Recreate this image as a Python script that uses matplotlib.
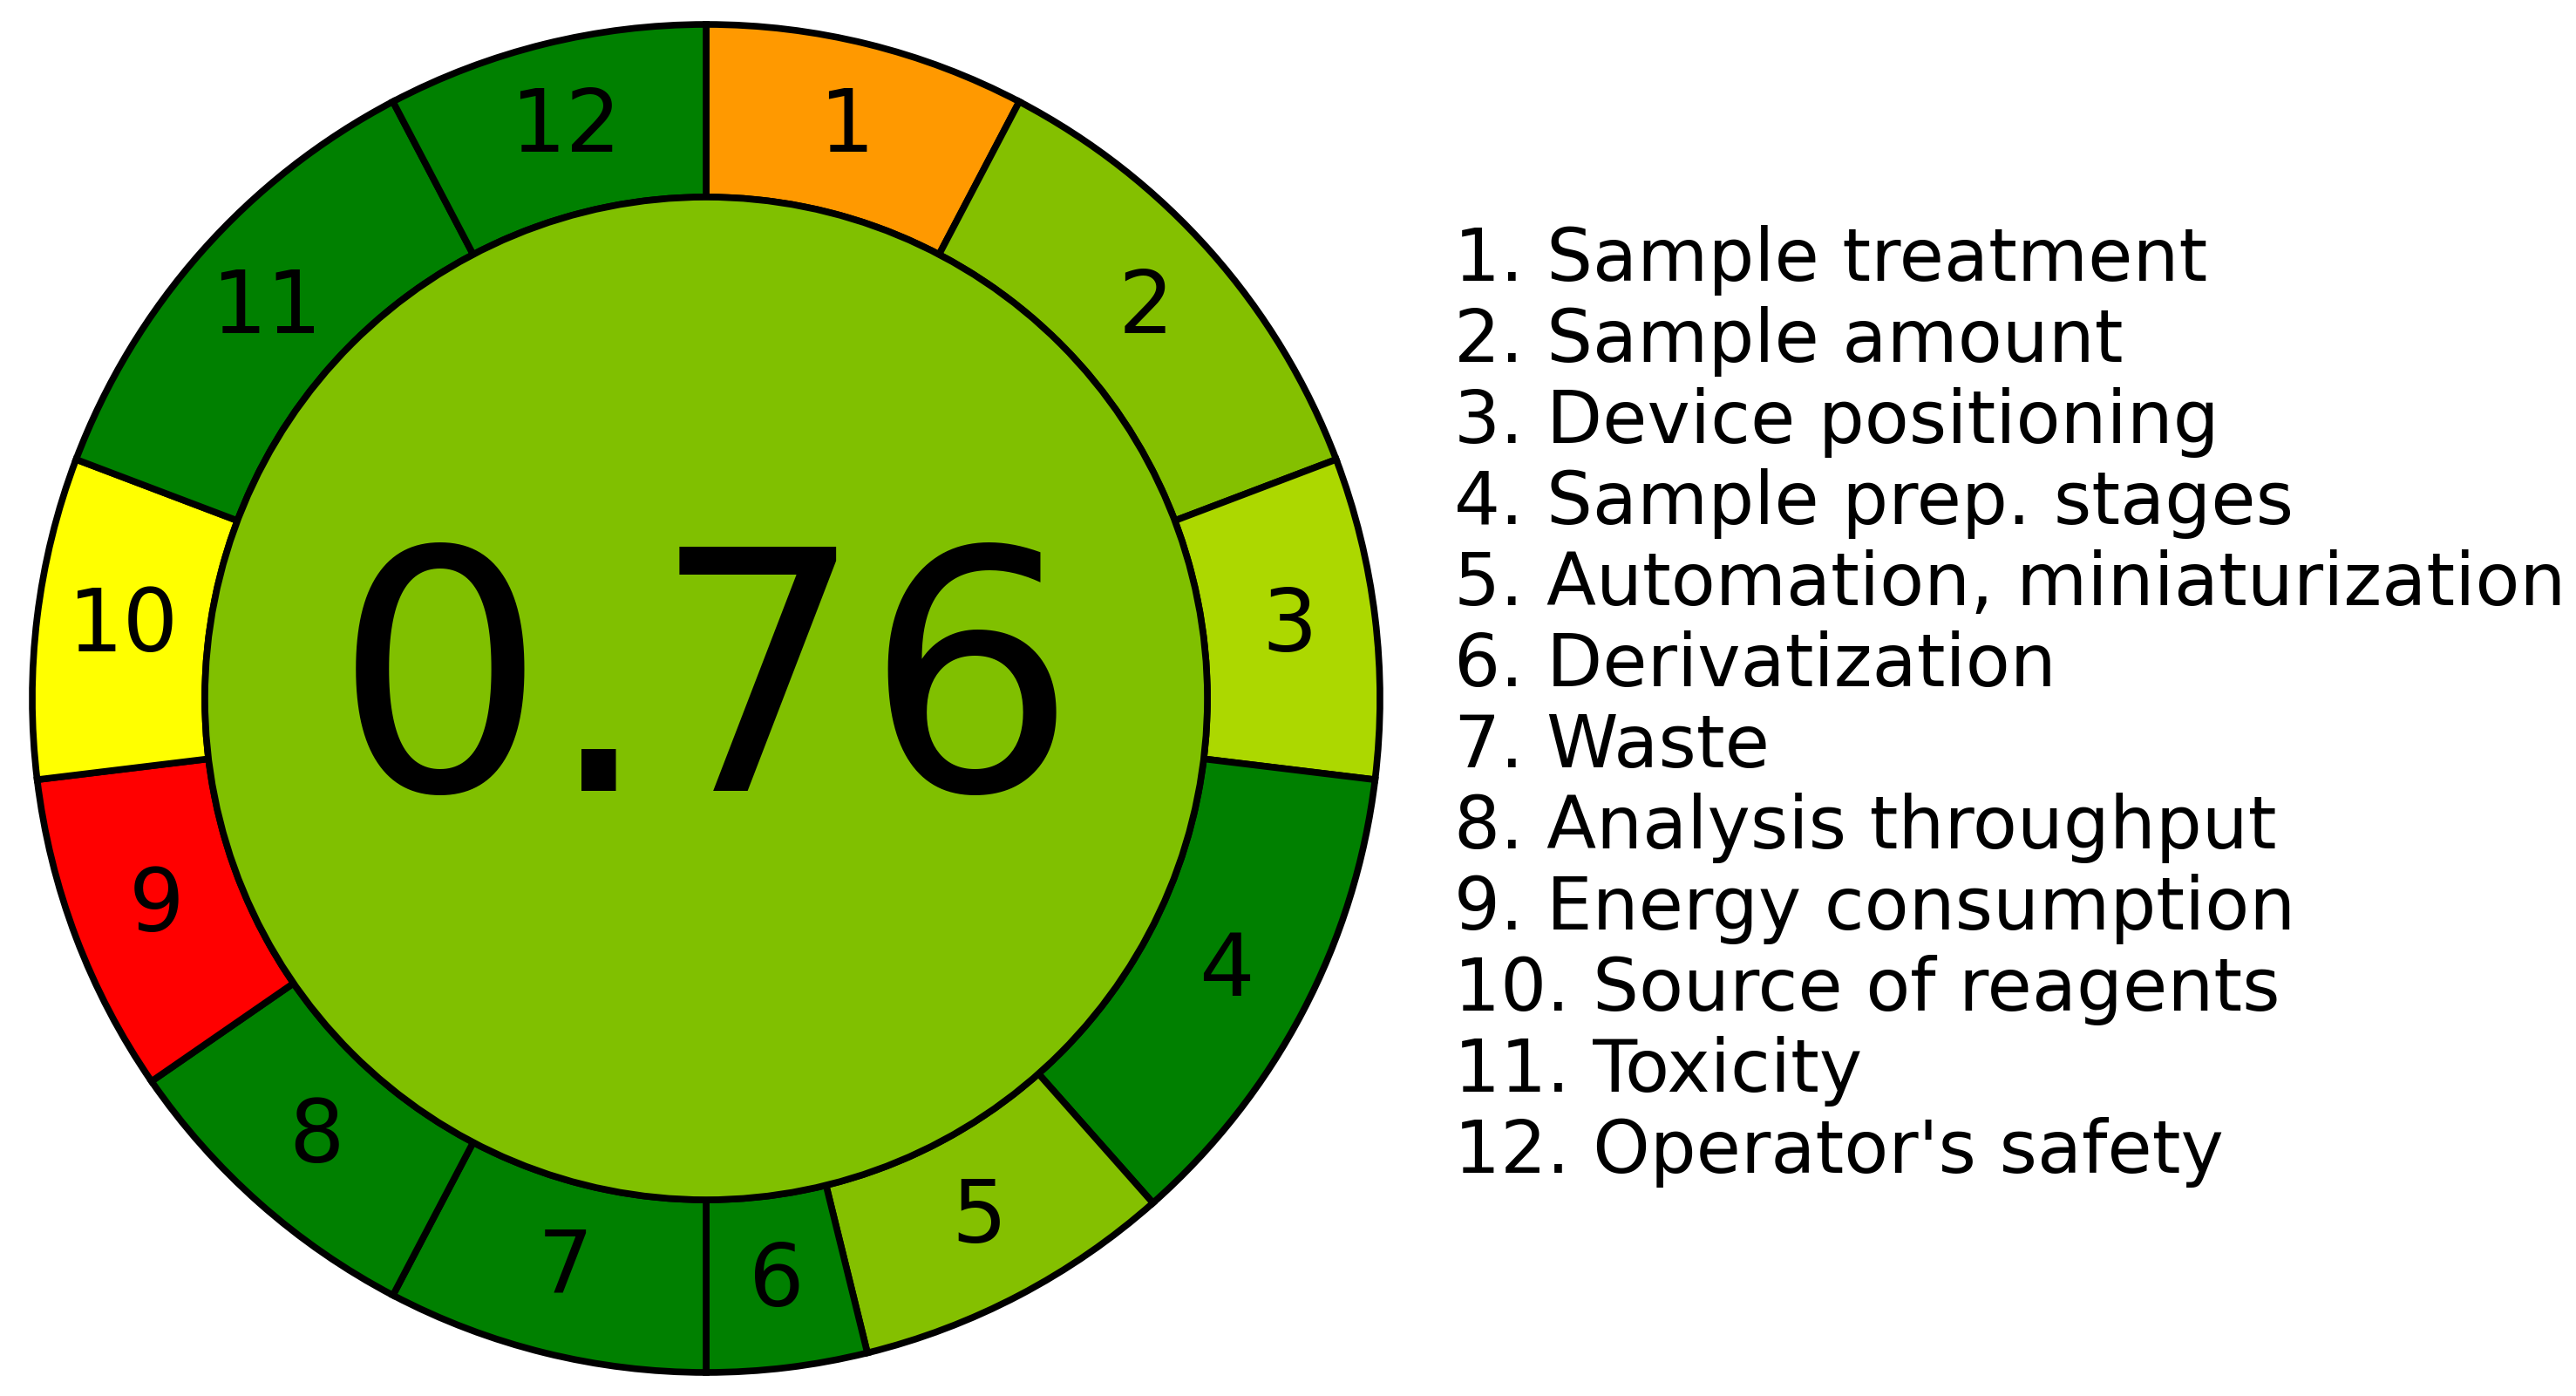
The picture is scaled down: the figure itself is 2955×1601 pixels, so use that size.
import matplotlib.pyplot as plt
import numpy as np
from matplotlib.patches import Wedge, Circle

# criteria, weights (segment widths) and colours
criteria = ["Sample treatment", "Sample amount", "Device positioning",
            "Sample prep. stages", "Automation, miniaturization",
            "Derivatization", "Waste", "Analysis throughput",
            "Energy consumption", "Source of reagents", "Toxicity",
            "Operator's safety"]
weights = [2, 3, 2, 3, 2, 1, 2, 2, 2, 2, 3, 2]
colors = ["#FF9900", "#84C000", "#ACD800", "#008000", "#84C000", "#008000",
          "#008000", "#008000", "#FF0000", "#FFFF00", "#008000", "#008000"]
total_score = "0.76"
center_color = "#80C000"

W, H = 2955, 1601
fig = plt.figure(figsize=(W / 100, H / 100), dpi=100)
ax = fig.add_axes([0, 0, 1, 1])
ax.set_xlim(0, W)
ax.set_ylim(0, H)
ax.axis('off')

cx, cy = 810, H - 801
r_out, r_in = 773, 575
lw = 5.5

# ring segments, clockwise from 12 o'clock
total_w = sum(weights)
start = 0.0
for i, (w, c) in enumerate(zip(weights, colors)):
    span = 360.0 * w / total_w
    a1 = 90 - (start + span)
    a2 = 90 - start
    ax.add_patch(Wedge((cx, cy), r_out, a1, a2, width=r_out - r_in,
                       facecolor=c, edgecolor='black', linewidth=lw))
    mid = np.deg2rad(90 - (start + span / 2))
    rm = (r_out + r_in) / 2
    ax.text(cx + rm * np.cos(mid), cy + rm * np.sin(mid), str(i + 1),
            fontsize=72, ha='center', va='center', color='black')
    start += span

# center disc with the overall score
ax.add_patch(Circle((cx, cy), r_in, facecolor=center_color,
                    edgecolor='black', linewidth=lw))
ax.text(cx, cy, total_score, fontsize=276, ha='center', va='center',
        color='black')

# legend list on the right
y0 = H - 298
dy = 93
for i, name in enumerate(criteria):
    ax.text(1668, y0 - i * dy, f"{i + 1}. {name}", fontsize=60,
            ha='left', va='center', color='black')

fig.savefig('out.png', dpi=100, facecolor='white')
